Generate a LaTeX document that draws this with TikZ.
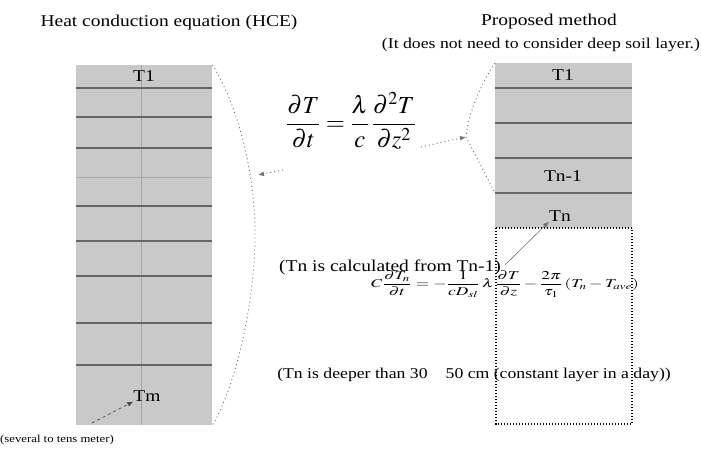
\documentclass[tikz,border=0pt]{standalone}
\usepackage{amsmath}
\usepackage{graphicx}
\usepackage{mathptmx}
\usepackage{fontspec}
\setmainfont[FakeStretch=1.18]{Liberation Serif}
\usetikzlibrary{arrows.meta}
\begin{document}
\begin{tikzpicture}[x=1pt,y=-1pt,
  col/.style={draw=none, fill=gray!42, inner sep=0pt, anchor=north west},
  sep/.style={draw=black!60, line width=1.1pt},
  faint/.style={draw=black!35, line width=0.6pt},
  dotl/.style={draw=black!55, line width=0.9pt, dash pattern=on 1pt off 3pt},
  boxl/.style={draw=black, line width=1.3pt, dash pattern=on 1.3pt off 1.7pt},
  tip/.style={-{Latex[length=6pt,width=5pt]}},
  lbl/.style={font=\fontsize{16.5}{18}\selectfont, inner sep=0pt},
  ttl/.style={font=\fontsize{16.5}{18}\selectfont, inner sep=0pt},
  note/.style={font=\fontsize{15}{17}\selectfont, inner sep=0pt}]
\useasboundingbox (0,0) rectangle (701,454);
% left column
\node[col, minimum width=136pt, minimum height=360pt] (Lcol) at (76,65) {};
\draw[faint] (141,65) -- (141,425);
\foreach \yy in {88,117,148,206,241,276,323,365} \draw[sep] (76,\yy) -- (212,\yy);
\draw[faint] (76,177) -- (212,177);
\node[lbl] (T1L) at (144,76) {T1};
\node[lbl] (Tm) at (147,396) {Tm};
% right column
\node[col, minimum width=137pt, minimum height=165pt] (Rcol) at (495,63) {};
\foreach \yy in {88,123,158,193} \draw[sep] (495,\yy) -- (632,\yy);
\node[lbl] (T1R) at (563,75) {T1};
\node[lbl] (Tn1) at (563,176) {Tn-1};
\node[lbl] (Tn) at (560,216) {Tn};
% dotted box below
\coordinate (bTL) at (496,228);
\coordinate (bTR) at (632,228);
\coordinate (bBL) at (496,424);
\coordinate (bBR) at (632,424);
\draw[boxl] (bTL) -- (bTR);
\draw[boxl] (bTL) -- (bBL) -- (bBR) -- (bTR);
% titles
\node[ttl] (t1) at (169,23) {Heat conduction equation (HCE)};
\node[ttl] (t2) at (549,22) {Proposed method};
\node[note] (t3) at (541,45) {(It does not need to consider deep soil layer.)};
% main equation
\node[font=\fontsize{24.5}{28}\selectfont, inner sep=0pt] (eq) at (351,121)
  {$\dfrac{\partial T}{\partial t}=\dfrac{\lambda}{c}\,\dfrac{\partial^{2}T}{\partial z^{2}}$};
% left bracket
\draw[dotl] (Lcol.north east) .. controls (238,105) and (256,175) .. (255,240)
  .. controls (254,305) and (236,385) .. (Lcol.south east);
\coordinate (la) at (258,175);
\coordinate (lb) at (283,170);
\draw[dotl, tip] (lb) -- (la);
% right bracket
\coordinate (rv) at (466,137);
\draw[dotl] (Rcol.north west) .. controls (480,85) and (468,115) .. (rv) -- (495,193);
\coordinate (ra) at (421,147);
\draw[dotl, tip] (ra) -- (rv);
% notes
\node[font=\fontsize{16.5}{18}\selectfont, inner sep=0pt] (n1) at (390,267) {(Tn is calculated from Tn-1)};
\node[font=\fontsize{12}{14}\selectfont, inner sep=0pt] (eq2) at (505,284)
  {\scalebox{1.44}[1]{$C\dfrac{\partial T_{n}}{\partial t}=-\dfrac{1}{cD_{sl}}\,\lambda\,\dfrac{\partial T}{\partial z}-\dfrac{2\pi}{\tau_{1}}\,(T_{n}-T_{ave})$}};
\node[note] (n2) at (474,375) {(Tn is deeper than 30\hspace{1.2em}50 cm (constant layer in a day))};
\node[font=\fontsize{10.8}{13}\selectfont, inner sep=0pt] (n3) at (57,440) {(several to tens meter)};
% arrows to Tn and Tm
\coordinate (tna) at (505,265);
\draw[draw=black!55, line width=0.6pt, tip] (tna) -- (Tn.south west);
\coordinate (tma) at (92,423);
\draw[draw=black!70, line width=0.7pt, dashed, tip] (tma) -- (Tm.south west);
\end{tikzpicture}
\end{document}
